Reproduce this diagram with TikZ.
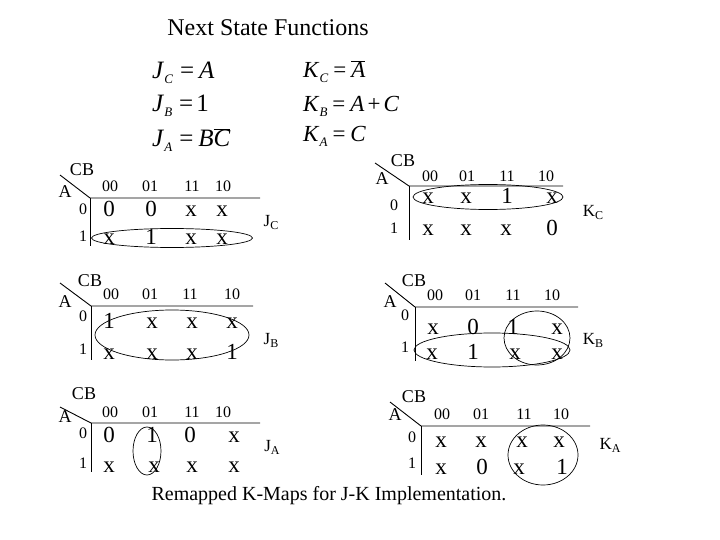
\documentclass[tikz,border=0pt]{standalone}
\usepackage{fontspec}
\setmainfont{Liberation Serif}
\usetikzlibrary{shapes.geometric}
\newcommand{\sbs}[1]{\raisebox{-5pt}{\fontsize{13}{13}\selectfont\textit{#1}}}
\newcommand{\fsb}[1]{\raisebox{-3pt}{\fontsize{12}{12}\selectfont #1}}
\begin{document}
\begin{tikzpicture}[x=1pt,y=-1pt,
  txt/.style={inner sep=0pt, anchor=center},
  cell/.style={inner sep=0pt, anchor=base, yshift=-8pt, font=\fontsize{23}{23}\selectfont},
  hdr/.style={inner sep=0pt, anchor=base, yshift=-5pt, font=\fontsize{16}{16}\selectfont},
  rowl/.style={inner sep=0pt, anchor=base, yshift=-5.5pt, font=\fontsize{16}{16}\selectfont},
  var/.style={txt, font=\fontsize{18}{18}\selectfont},
  fn/.style={txt, font=\fontsize{17}{17}\selectfont},
  eqn/.style={inner sep=0pt, anchor=base west, font=\fontsize{23}{23}\selectfont},
  eqj/.style={eqn, font=\fontsize{25}{25}\selectfont},
  grid/.style={line width=0.9pt},
  loopnode/.style={draw, ellipse, inner sep=0pt, line width=0.7pt}]
\fill[white] (0,0) rectangle (720,540);
\useasboundingbox (0,0) rectangle (720,540);

% Title and caption
\node[txt, font=\fontsize{24}{24}\selectfont] (title) at (268,28) {Next State Functions};
\node[txt, font=\fontsize{20}{20}\selectfont] (caption) at (329,496) {Remapped K-Maps for J-K Implementation.};

% Equations
\node[eqj] (ejc) at (152,79) {\textit{J}\sbs{C}\hspace{7pt}=\hspace{5pt}\textit{A}};
\node[eqj] (ejb) at (152,112) {\textit{J}\sbs{B}\hspace{7pt}=\hspace{3pt}1};
\node[eqj] (eja) at (152,147) {\textit{J}\sbs{A}\hspace{7pt}=\hspace{5pt}\textit{B}$\overline{\mbox{\itshape C}}$};
\node[eqn] (ekc) at (303,78) {\textit{K}\sbs{C}\hspace{5pt}=\hspace{5pt}$\overline{\mbox{\itshape A}}$};
\node[eqn] (ekb) at (303,112) {\textit{K}\sbs{B}\hspace{5pt}=\hspace{5pt}\textit{A}\hspace{3pt}+\hspace{3pt}\textit{C}};
\node[eqn] (eka) at (303,142) {\textit{K}\sbs{A}\hspace{5pt}=\hspace{5pt}\textit{C}};

% ---------- Map 1: J_C ----------
\coordinate (m1o) at (90,198); \coordinate (m1d) at (60,175);
\coordinate (m1e) at (260,198); \coordinate (m1v) at (90,246);
\draw[grid] (m1d) -- (m1o) -- (m1e); \draw[grid] (m1o) -- (m1v);
\node[var] (m1cb) at (82,170) {CB}; \node[var] (m1a) at (65,192) {A};
\foreach \x/\t [count=\i] in {110/00,150/01,192/11,223/10} \node[hdr] (m1h\i) at (\x,187) {\t};
\foreach \x/\v [count=\i] in {109/0,151/0,191/x,222/x} \node[cell] (m1r\i) at (\x,209) {\v};
\foreach \x/\v [count=\i] in {109/x,151/1,191/x,222/x} \node[cell] (m1s\i) at (\x,236) {\v};
\node[rowl] (m1l0) at (83,209) {0}; \node[rowl] (m1l1) at (83,236) {1};
\node[fn] (ljc) at (271,222) {J\fsb{C}};
\node[loopnode, minimum width=161pt, minimum height=19pt] (m1loop) at (172,238) {};

% ---------- Map 2: K_C ----------
\coordinate (m2o) at (409,186); \coordinate (m2d) at (375,163);
\coordinate (m2e) at (563,186); \coordinate (m2v) at (409,240);
\draw[grid] (m2d) -- (m2o) -- (m2e); \draw[grid] (m2o) -- (m2v);
\node[var] (m2cb) at (403,161) {CB}; \node[var] (m2a) at (382,179) {A};
\foreach \x/\t [count=\i] in {430/00,467/01,507/11,546/10} \node[hdr] (m2h\i) at (\x,177) {\t};
\foreach \x/\v [count=\i] in {428/x,466/x,507/1,552/x} \node[cell] (m2r\i) at (\x,196) {\v};
\foreach \x/\v [count=\i] in {428/x,466/x,506/x,552/0} \node[cell] (m2s\i) at (\x,228) {\v};
\node[rowl] (m2l0) at (394,205) {0}; \node[rowl] (m2l1) at (394,228) {1};
\node[fn] (lkc) at (593,212) {K\fsb{C}};
\node[loopnode, minimum width=150pt, minimum height=25pt] (m2loop) at (488,197) {};

% ---------- Map 3: J_B ----------
\coordinate (m3o) at (91,306); \coordinate (m3d) at (60,283);
\coordinate (m3e) at (253,306); \coordinate (m3v) at (91,360);
\draw[grid] (m3d) -- (m3o) -- (m3e); \draw[grid] (m3o) -- (m3v);
\node[var] (m3cb) at (90,281) {CB}; \node[var] (m3a) at (65,302) {A};
\foreach \x/\t [count=\i] in {111/00,150/01,190/11,232/10} \node[hdr] (m3h\i) at (\x,294) {\t};
\foreach \x/\v [count=\i] in {109/1,152/x,192/x,232/x} \node[cell] (m3r\i) at (\x,320) {\v};
\foreach \x/\v [count=\i] in {109/x,152/x,192/x,232/1} \node[cell] (m3s\i) at (\x,351) {\v};
\node[rowl] (m3l0) at (83,316) {0}; \node[rowl] (m3l1) at (83,349) {1};
\node[fn] (ljb) at (271,340) {J\fsb{B}};
\node[loopnode, minimum width=154pt, minimum height=50pt] (m3loop) at (172,335) {};

% ---------- Map 4: K_B ----------
\coordinate (m4o) at (415,307); \coordinate (m4d) at (385,283);
\coordinate (m4e) at (578,307); \coordinate (m4v) at (415,361);
\draw[grid] (m4d) -- (m4o) -- (m4e); \draw[grid] (m4o) -- (m4v);
\node[var] (m4cb) at (414,281) {CB}; \node[var] (m4a) at (390,302) {A};
\foreach \x/\t [count=\i] in {435/00,473/01,513/11,552/10} \node[hdr] (m4h\i) at (\x,295) {\t};
\foreach \x/\v [count=\i] in {433/x,473/0,513/1,557/x} \node[cell] (m4r\i) at (\x,326) {\v};
\foreach \x/\v [count=\i] in {432/x,473/1,515/x,557/x} \node[cell] (m4s\i) at (\x,351) {\v};
\node[rowl] (m4l0) at (405,315) {0}; \node[rowl] (m4l1) at (405,347) {1};
\node[fn] (lkb) at (593,340) {K\fsb{B}};
\node[loopnode, minimum width=156pt, minimum height=34pt] (m4loopa) at (492,350) {};
\node[loopnode, minimum width=66pt, minimum height=54pt] (m4loopb) at (537,338) {};

% ---------- Map 5: J_A ----------
\coordinate (m5o) at (91,423); \coordinate (m5d) at (60,407);
\coordinate (m5e) at (260,423); \coordinate (m5v) at (91,472);
\draw[grid] (m5d) -- (m5o) -- (m5e); \draw[grid] (m5o) -- (m5v);
\node[var] (m5cb) at (84,394) {CB}; \node[var] (m5a) at (65,417) {A};
\foreach \x/\t [count=\i] in {110/00,150/01,192/11,223/10} \node[hdr] (m5h\i) at (\x,412) {\t};
\foreach \x/\v [count=\i] in {109/0,152/1,190/0,234/x} \node[cell] (m5r\i) at (\x,434) {\v};
\foreach \x/\v [count=\i] in {109/x,154/x,192/x,234/x} \node[cell] (m5s\i) at (\x,464) {\v};
\node[rowl] (m5l0) at (83,433) {0}; \node[rowl] (m5l1) at (83,463) {1};
\node[fn] (lja) at (272,447) {J\fsb{A}};
\node[loopnode, minimum width=28pt, minimum height=48pt] (m5loop) at (147,451) {};

% ---------- Map 6: K_A ----------
\coordinate (m6o) at (421,426); \coordinate (m6d) at (390,402);
\coordinate (m6e) at (590,426); \coordinate (m6v) at (421,475);
\draw[grid] (m6d) -- (m6o) -- (m6e); \draw[grid] (m6o) -- (m6v);
\node[var] (m6cb) at (414,397) {CB}; \node[var] (m6a) at (395,415) {A};
\foreach \x/\t [count=\i] in {442/00,481/01,524/11,561/10} \node[hdr] (m6h\i) at (\x,414) {\t};
\foreach \x/\v [count=\i] in {441/x,481/x,522/x,559/x} \node[cell] (m6r\i) at (\x,439) {\v};
\foreach \x/\v [count=\i] in {441/x,482/0,519/x,562/1} \node[cell] (m6s\i) at (\x,466) {\v};
\node[rowl] (m6l0) at (412,437) {0}; \node[rowl] (m6l1) at (412,463) {1};
\node[fn] (lka) at (610,445) {K\fsb{A}};
\node[loopnode, minimum width=70pt, minimum height=60pt] (m6loop) at (543,455) {};
\end{tikzpicture}
\end{document}
